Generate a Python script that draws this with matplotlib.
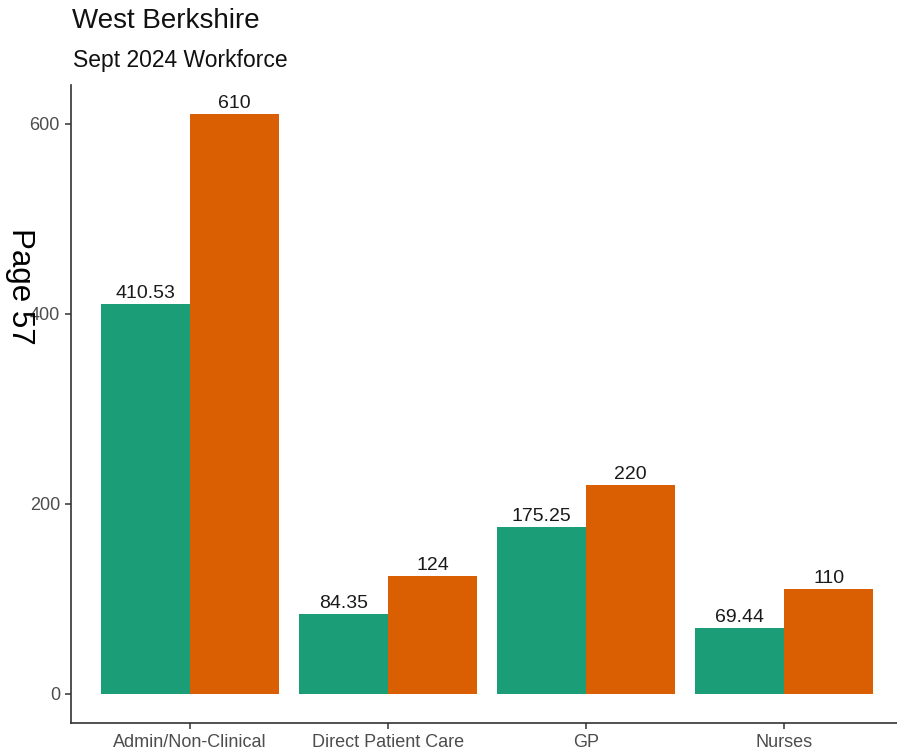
import numpy as np
import matplotlib
matplotlib.use("Agg")
import matplotlib.pyplot as plt

plt.rcParams["font.family"] = ["Liberation Sans", "DejaVu Sans"]

# workforce counts per staff group, two series
categories = ["Admin/Non-Clinical", "Direct Patient Care", "GP", "Nurses"]
series_a = [410.53, 84.35, 175.25, 69.44]
series_b = [610, 124, 220, 110]
yticks = [0, 200, 400, 600]

GREEN = "#1B9E77"
ORANGE = "#D95F02"

fig = plt.figure(figsize=(8.97, 7.55), dpi=100)
W, H = 897, 755
ax = fig.add_axes([71 / W, 32 / H, (W - 71) / W, (723 - 85) / H])

x = np.arange(1, len(categories) + 1)
bw = 0.45
bars_a = ax.bar(x - bw / 2, series_a, width=bw, color=GREEN, linewidth=0)
bars_b = ax.bar(x + bw / 2, series_b, width=bw, color=ORANGE, linewidth=0)

for bars, vals in ((bars_a, series_a), (bars_b, series_b)):
    for b, v in zip(bars, vals):
        lab = f"{v:g}"
        ax.annotate(lab, (b.get_x() + b.get_width() / 2, v),
                    xytext=(0, 1.5), textcoords="offset points",
                    ha="center", va="bottom", fontsize=14, color="#1a1a1a")

ax.set_xlim(0.4, 4.57)
ax.set_ylim(-30.5, 640.5)
ax.set_xticks(x)
ax.set_xticklabels(categories)
ax.set_yticks(yticks)

for side in ("top", "right"):
    ax.spines[side].set_visible(False)
for side in ("left", "bottom"):
    ax.spines[side].set_color("#333333")
    ax.spines[side].set_linewidth(1.2)
ax.tick_params(axis="both", colors="#333333", length=4, width=1.1,
               labelsize=13, labelcolor="#4D4D4D", pad=4)

fig.text(72 / W, 1 - 21 / H, "West Berkshire", fontsize=20,
         ha="left", va="center", color="#111111")
fig.text(73 / W, 1 - 60 / H, "Sept 2024 Workforce", fontsize=16.5,
         ha="left", va="center", color="#111111")
fig.text(20 / W, 1 - 286 / H, "Page 57", fontsize=22.5, rotation=-90,
         ha="center", va="center", color="black")

fig.savefig("out.png", dpi=100)
